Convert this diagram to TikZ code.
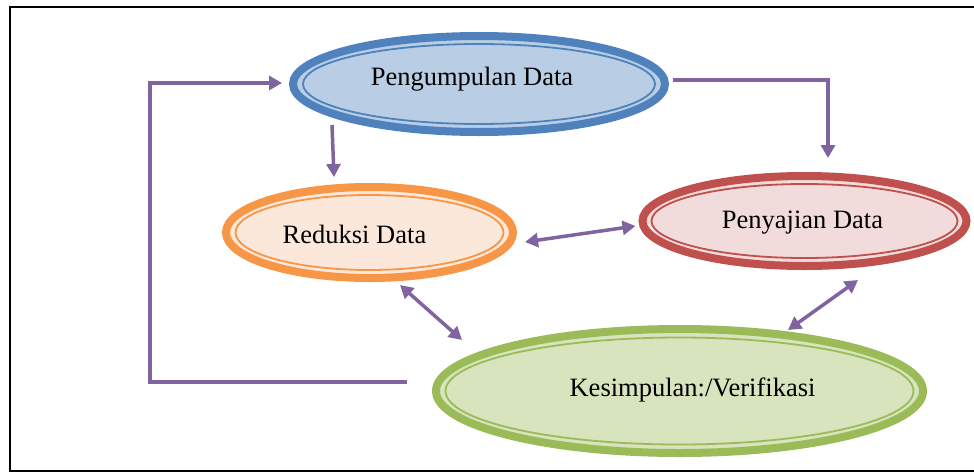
\documentclass[tikz,border=0pt]{standalone}
\usepackage{fontspec}
\setmainfont{Liberation Serif}
\usetikzlibrary{shapes.geometric,arrows.meta,calc}
\definecolor{bluL}{HTML}{4F81BD}\definecolor{bluF}{HTML}{B9CDE5}
\definecolor{orL}{HTML}{F79646}\definecolor{orF}{HTML}{FCE8DA}
\definecolor{rdL}{HTML}{C0504D}\definecolor{rdF}{HTML}{F2DCDB}
\definecolor{grL}{HTML}{9BBB59}\definecolor{grF}{HTML}{D7E4BD}
\definecolor{arrC}{HTML}{8064A2}
\tikzset{
  ell/.style={ellipse, inner sep=0pt, line width=8pt},
  lbl/.style={inner sep=0pt, font=\fontsize{26.5}{30}\selectfont, anchor=base},
  arr/.style={draw=arrC, line width=3.5pt, -{Triangle[length=13pt,width=14pt]}},
  arrb/.style={draw=arrC, line width=3.5pt, {Triangle[length=13pt,width=14pt]}-{Triangle[length=13pt,width=14pt]}},
}
\begin{document}
\begin{tikzpicture}[x=1pt,y=-1pt]
\clip (0,0) rectangle (974,474);
\fill[white] (0,0) rectangle (974,474);
% frame
\draw[line width=2.6pt] (990,7) -- (10,7) -- (10,471) -- (990,471);
% ellipses
\node[ell, draw=bluL, fill=bluF, minimum width=372pt, minimum height=96pt] (P) at (479,84) {};
\node[ell, draw=orL, fill=orF, minimum width=287pt, minimum height=91pt] (R) at (369.5,232.5) {};
\node[ell, draw=rdL, fill=rdF, minimum width=324pt, minimum height=90pt] (S) at (804.5,221) {};
\node[ell, draw=grL, fill=grF, minimum width=487pt, minimum height=124pt] (K) at (679.5,391) {};
% inner thin lines
\draw[bluL, line width=1.8pt] (P.center) ellipse (176 and 40);
\draw[orL, line width=1.8pt] (R.center) ellipse (134 and 37.5);
\draw[rdL, line width=1.8pt] (S.center) ellipse (153 and 37);
\draw[grL, line width=1.8pt] (K.center) ellipse (234 and 53.5);
% texts
\node[lbl] (tP) at (472,85) {Pengumpulan Data};
\node[lbl] (tR) at (354.5,243) {Reduksi Data};
\node[lbl] (tS) at (802.5,228) {Penyajian Data};
\node[lbl] (tK) at (692.5,396) {Kesimpulan:/Verifikasi};
% connectors
\coordinate (fbL) at (150,382);
\coordinate (rtip) at (828,158);
\draw[arr] ([shift={(-25,-9)}]K.west) -- (fbL) |- ([shift={(-7,-1)}]P.west);
\draw[arr] ([shift={(4,-4)}]P.east) -| (rtip);
\draw[arr] ([shift={(-147,-11)}]P.south) -- ([shift={(-35.5,-6)}]R.north);
\draw[arrb] ([shift={(8,9.5)}]R.east) -- ([shift={(-3,5)}]S.west);
\draw[arrb] ([shift={(30.5,3)}]R.south) -- ([shift={(-217.5,15)}]K.north);
\draw[arrb] ([shift={(53.5,10)}]S.south) -- ([shift={(108.5,5)}]K.north);
\end{tikzpicture}
\end{document}
